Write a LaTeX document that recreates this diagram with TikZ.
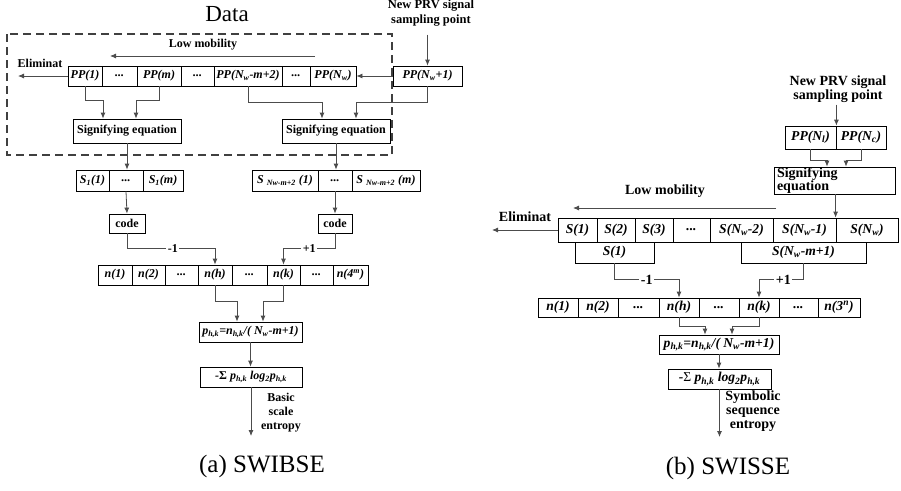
\documentclass[tikz,border=0pt]{standalone}
\usepackage{fontspec}
\setmainfont{Liberation Serif}
\usetikzlibrary{arrows.meta}

\tikzset{
  cell/.style={draw=black, line width=0.8pt, inner sep=0pt,
    font=\bfseries\itshape\fontsize{12}{13}\selectfont},
  plainbox/.style={cell, font=\bfseries\fontsize{12}{13}\selectfont},
  bigcell/.style={cell, font=\bfseries\itshape\fontsize{13.6}{14}\selectfont},
  conn/.style={draw=black!70, line width=0.8pt},
  arr/.style={conn, -{Latex[length=6pt,width=5pt]}},
  lbl/.style={font=\bfseries\fontsize{12}{14}\selectfont, inner sep=1pt},
  biglbl/.style={font=\bfseries\fontsize{14}{16}\selectfont, inner sep=1pt},
  steplbl/.style={lbl, fill=white, inner sep=1.5pt},
  bigsteplbl/.style={biglbl, fill=white, inner sep=1.5pt},
  notelbl/.style={font=\bfseries\fontsize{12.5}{15}\selectfont, align=center, inner sep=0pt},
  bignotelbl/.style={font=\bfseries\fontsize{14}{14}\selectfont, align=center, inner sep=0pt},
  caption/.style={font=\fontsize{25}{28}\selectfont, inner sep=0pt},
  frame/.style={draw=black!75, line width=1.2pt, dash pattern=on 8pt off 5pt},
}

% a box given by its left/right/top/bottom edges
\newcommand{\cellat}[7][cell]{%
  \node[#1, minimum width={(#4-#3)*1pt}, minimum height={(#6-#5)*1pt}]
    (#2) at ({(#3+#4)/2},{(#5+#6)/2}) {#7};}

\begin{document}
\begin{tikzpicture}[x=1pt, y=-1pt]
\useasboundingbox (0,0) rectangle (901,490);

%% ---------------- (a) SWIBSE ----------------
\draw[frame] (7,34) rectangle (392,155);
\node[font=\fontsize{23}{26}\selectfont, inner sep=0pt] (data) at (227,14) {Data};

\node[lbl] (lowA) at (203,45) {Low mobility};
\coordinate (lowAr) at (315,56);
\coordinate (lowAl) at (110,56);
\draw[arr] (lowAr) -- (lowAl);

\node[lbl] (elimA) at (40,63) {Eliminat};
\coordinate (elimAend) at (18,76);

\cellat{ppA}{68}{102}{66}{86}{PP(1)}
\cellat{ppDa}{102}{137}{66}{86}{...}
\cellat{ppM}{137}{181}{66}{86}{PP(m)}
\cellat{ppDb}{181}{214}{66}{86}{...}
\cellat{ppK}{214}{282}{66}{86}{PP(N\textsubscript{w}-m+2)}
\cellat{ppDc}{282}{310}{66}{86}{...}
\cellat{ppN}{310}{356}{66}{86}{PP(N\textsubscript{w})}
\cellat{ppNew}{393}{462}{66}{86}{PP(N\textsubscript{w}+1)}

\draw[arr] (ppA.west) -- (elimAend);
\draw[arr] (ppNew.west) -- (ppN.east);

\node[notelbl] (newA) at (431,13) {New PRV signal\\sampling point};
\draw[arr] ([yshift=31pt]ppNew.north) -- (ppNew.north);

\cellat[plainbox]{sigA}{73}{181}{119}{143}{Signifying equation}
\cellat[plainbox]{sigB}{282}{390}{119}{143}{Signifying equation}

\draw[arr] (ppA.south) -- ++(0,14) -| ([xshift=-24pt]sigA.north);
\draw[arr] (ppM.south) -- ++(0,14) -| ([xshift=9pt]sigA.north);
\draw[arr] (ppK.south) -- ++(0,16) -| ([xshift=-14pt]sigB.north);
\draw[arr] (ppNew.south) -- ++(0,16) -| ([xshift=20pt]sigB.north);

\cellat{saA}{76}{109}{170}{191}{S\textsubscript{1}(1)}
\cellat{saD}{109}{143}{170}{191}{...}
\cellat{saM}{143}{183}{170}{191}{S\textsubscript{1}(m)}
\cellat{sbA}{252}{318}{170}{191}{S \textsubscript{Nw-m+2} (1)}
\cellat{sbD}{318}{352}{170}{191}{...}
\cellat{sbM}{352}{420}{170}{191}{S \textsubscript{Nw-m+2} (m)}

\draw[arr] (sigA.south) -- (sigA.south |- saD.north);
\draw[arr] (sigB.south) -- (sigB.south |- sbD.north);

\cellat[plainbox]{codeA}{109}{145}{214}{233}{code}
\cellat[plainbox]{codeB}{318}{352}{214}{233}{code}

\draw[arr] (saD.south) -- (codeA.north);
\draw[arr] (sbD.south) -- (codeB.north);

\cellat{nA1}{98}{132}{265}{285}{n(1)}
\cellat{nA2}{132}{165}{265}{285}{n(2)}
\cellat{nAd1}{165}{198}{265}{285}{...}
\cellat{nAh}{198}{232}{265}{285}{n(h)}
\cellat{nAd2}{232}{267}{265}{285}{...}
\cellat{nAk}{267}{300}{265}{285}{n(k)}
\cellat{nAd3}{300}{333}{265}{285}{...}
\cellat{nAm}{333}{368}{265}{285}{n(4\textsuperscript{m})}

\draw[arr] (codeA.south) -- ++(0,15) coordinate (ca)
  -- node[steplbl, pos=0.52] {-1} (ca -| nAh.north) -- (nAh.north);
\draw[arr] (codeB.south) -- ++(0,15) coordinate (cb)
  -- node[steplbl] {+1} (cb -| nAk.north) -- (nAk.north);

\cellat{pA}{199}{302}{322}{342}{p\textsubscript{h,k}=n\textsubscript{h,k}/( N\textsubscript{w}-m+1)}
\draw[arr] (nAh.south) -- ++(0,16) -| ([xshift=-13.5pt]pA.north);
\draw[arr] (nAk.south) -- ++(0,16) -| ([xshift=12.5pt]pA.north);

\cellat{eA}{200}{302}{367}{387}{-{\upshape\bfseries Σ} p\textsubscript{h,k} log\textsubscript{2}p\textsubscript{h,k}}
\draw[arr] (pA.south) -- (pA.south |- eA.north);
\coordinate (outA) at (251,436);
\draw[arr] (eA.south) -- (outA);
\node[notelbl, font=\bfseries\fontsize{12}{14}\selectfont] (basic) at (281,413) {Basic\\scale\\entropy};

\node[caption] (capA) at (262,466) {(a) SWIBSE};

%% ---------------- (b) SWISSE ----------------
\node[bignotelbl] (newB) at (838,89) {New PRV signal\\sampling point};

\cellat[bigcell]{ppNl}{785}{836}{126}{149}{PP(N\textsubscript{l})}
\cellat[bigcell]{ppNc}{836}{886}{126}{149}{PP(N\textsubscript{c})}
\draw[arr] ([yshift=21pt]ppNl.north east) -- (ppNl.north east);

\node[draw=black, line width=0.8pt, minimum height=27pt, text width=115pt,
  inner xsep=3pt, inner ysep=0pt, align=left,
  font=\bfseries\fontsize{14}{13}\selectfont] (sigC) at (834.5,180.5)
  {Signifying\\equation};

\draw[arr] (ppNl.south) -- ++(0,11) -| ([xshift=-7.5pt]sigC.north);
\draw[arr] (ppNc.south) -- ++(0,11) -| ([xshift=11.5pt]sigC.north);

\node[biglbl] (lowB) at (665,191) {Low mobility};
\coordinate (lowBr) at (776,208);
\coordinate (lowBl) at (573,208);
\draw[arr] (lowBr) -- (lowBl);

\node[biglbl] (elimB) at (525,217) {Eliminat};
\coordinate (elimBend) at (492,230);

\cellat[bigcell]{s1}{558}{597}{218}{242}{S(1)}
\cellat[bigcell]{s2}{597}{635}{218}{242}{S(2)}
\cellat[bigcell]{s3}{635}{673}{218}{242}{S(3)}
\cellat[bigcell]{sd}{673}{710}{218}{242}{...}
\cellat[bigcell]{sw2}{710}{773}{218}{242}{S(N\textsubscript{w}-2)}
\cellat[bigcell]{sw1}{773}{836}{218}{242}{S(N\textsubscript{w}-1)}
\cellat[bigcell]{sw}{836}{898}{218}{242}{S(N\textsubscript{w})}

\draw[arr] (s1.west) -- (elimBend);
\draw[arr] (sw.north west |- sigC.south) -- (sw.north west);

\cellat[bigcell]{sub1}{575}{654}{242}{263}{S(1)}
\cellat[bigcell]{subN}{741}{866}{242}{263}{S(N\textsubscript{w}-m+1)}

\cellat[bigcell]{nB1}{538}{578}{298}{317}{n(1)}
\cellat[bigcell]{nB2}{578}{618}{298}{317}{n(2)}
\cellat[bigcell]{nBd1}{618}{659}{298}{317}{...}
\cellat[bigcell]{nBh}{659}{699}{298}{317}{n(h)}
\cellat[bigcell]{nBd2}{699}{739}{298}{317}{...}
\cellat[bigcell]{nBk}{739}{779}{298}{317}{n(k)}
\cellat[bigcell]{nBd3}{779}{818}{298}{317}{...}
\cellat[bigcell]{nBn}{818}{860}{298}{317}{n(3\textsuperscript{n})}

\draw[arr] (sub1.south) -- ++(0,16) coordinate (cc)
  -- node[bigsteplbl] {-1} (cc -| nBh.north) -- (nBh.north);
\draw[arr] (subN.south) -- ++(0,16) coordinate (cd)
  -- node[bigsteplbl, pos=0.45] {+1} (cd -| nBk.north) -- (nBk.north);

\cellat[bigcell]{pB}{659}{779}{335}{354}{p\textsubscript{h,k}=n\textsubscript{h,k}/( N\textsubscript{w}-m+1)}
\draw[arr] (nBh.south) -- ++(0,9) -| ([xshift=-14pt]pB.north);
\draw[arr] (nBk.south) -- ++(0,9) -| ([xshift=13pt]pB.north);

\cellat[bigcell]{eB}{668}{771}{369}{389}{-{\upshape\mdseries Σ} p\textsubscript{h,k} log\textsubscript{2}p\textsubscript{h,k}}
\draw[arr] (pB.south) -- (pB.south |- eB.north);
\coordinate (outB) at (719,437);
\draw[arr] (eB.south) -- (eB.south |- outB);
\node[bignotelbl] (symb) at (753,411) {Symbolic\\sequence\\entropy};

\node[caption] (capB) at (728,468) {(b) SWISSE};
\end{tikzpicture}
\end{document}
